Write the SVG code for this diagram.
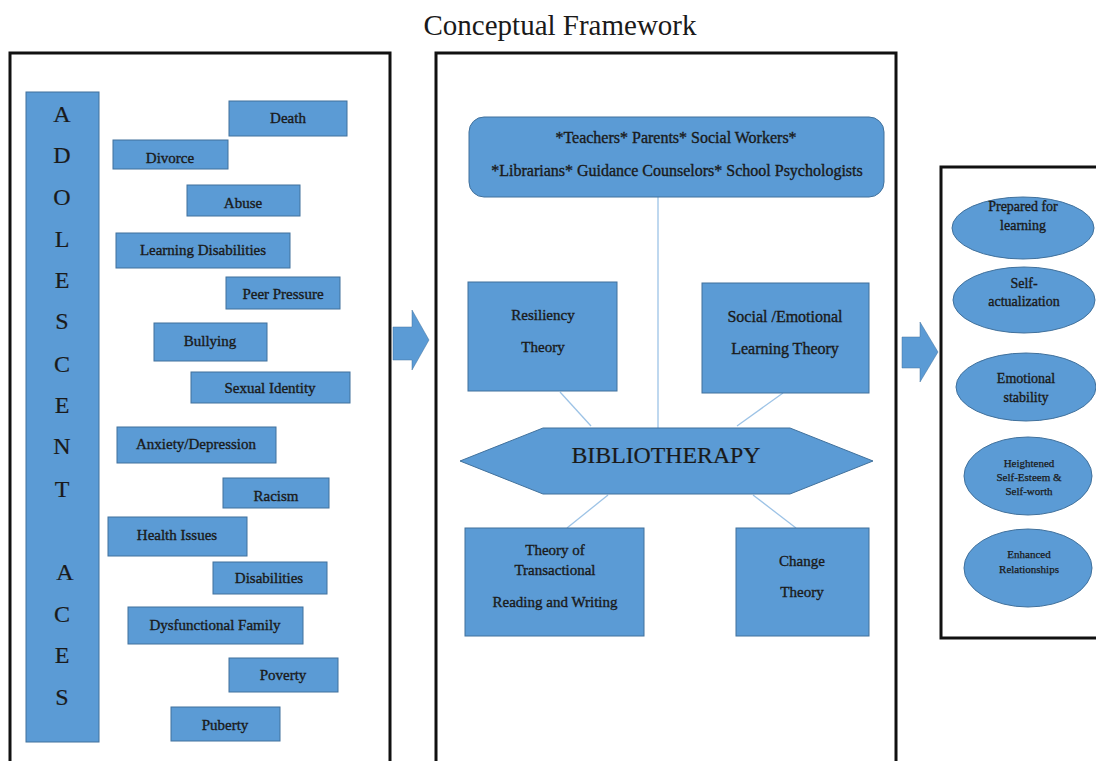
<svg xmlns="http://www.w3.org/2000/svg" width="1096" height="761" viewBox="0 0 1096 761">
<style>
.panel{fill:none;stroke:#111;stroke-width:3}
.box{fill:#5b9bd5;stroke:#41719c;stroke-width:1}
.conn{stroke:#9dc3e6;stroke-width:1.3;fill:none}
</style>
<rect width="1096" height="761" fill="#fff"/>
<g font-family="Liberation Serif, Times New Roman, serif" fill="#1a1a1a" text-anchor="middle">
<text x="560" y="35" font-size="29">Conceptual Framework</text>
</g>

<g id="panels">
<rect class="panel" x="10" y="53" width="380" height="720"/>
<rect class="panel" x="436" y="53" width="460" height="720"/>
<rect class="panel" x="941" y="167" width="160" height="471"/>
</g>

<g id="arrows" fill="#5b9bd5" stroke="#41719c" stroke-width="0.5">
<polygon points="393,327 412,327 412,310 429,340 412,370 412,360 393,360"/>
<polygon points="902,337 920,337 920,322 938,352 920,382 920,368 902,368"/>
</g>

<g id="connectors">
<line class="conn" x1="658" y1="197" x2="658" y2="428"/>
<line class="conn" x1="560" y1="392" x2="591" y2="426"/>
<line class="conn" x1="783" y1="393" x2="737" y2="426"/>
<line class="conn" x1="608" y1="495" x2="567" y2="528"/>
<line class="conn" x1="753" y1="495" x2="796" y2="528"/>
</g>

<g font-family="Liberation Serif, Times New Roman, serif" fill="#1a1a1a" stroke="#1a1a1a" stroke-width="0.35" text-anchor="middle" font-size="15">

<g id="adolescent-aces" font-size="24" stroke-width="0.2">
<rect class="box" x="26" y="92" width="73" height="650"/>
<text x="62" y="122">A</text>
<text x="62" y="163">D</text>
<text x="62" y="205">O</text>
<text x="62" y="247">L</text>
<text x="62" y="288">E</text>
<text x="62" y="329">S</text>
<text x="62" y="372">C</text>
<text x="62" y="413">E</text>
<text x="62" y="454">N</text>
<text x="62" y="497">T</text>
<text x="65" y="580">A</text>
<text x="62" y="622">C</text>
<text x="62" y="663">E</text>
<text x="62" y="705">S</text>
</g>

<g id="death"><rect class="box" x="229" y="101" width="118" height="35"/><text x="288" y="123">Death</text></g>
<g id="divorce"><rect class="box" x="113" y="140" width="115" height="29"/><text x="170" y="163">Divorce</text></g>
<g id="abuse"><rect class="box" x="187" y="185" width="113" height="31"/><text x="243" y="208">Abuse</text></g>
<g id="learning-disabilities"><rect class="box" x="116" y="233" width="174" height="35"/><text x="203" y="255">Learning Disabilities</text></g>
<g id="peer-pressure"><rect class="box" x="226" y="277" width="114" height="32"/><text x="283" y="299">Peer Pressure</text></g>
<g id="bullying"><rect class="box" x="154" y="323" width="113" height="38"/><text x="210" y="346">Bullying</text></g>
<g id="sexual-identity"><rect class="box" x="191" y="372" width="159" height="31"/><text x="270" y="393">Sexual Identity</text></g>
<g id="anxiety"><rect class="box" x="117" y="427" width="159" height="36"/><text x="196" y="449">Anxiety/Depression</text></g>
<g id="racism"><rect class="box" x="223" y="478" width="106" height="30"/><text x="276" y="501">Racism</text></g>
<g id="health"><rect class="box" x="108" y="517" width="139" height="39"/><text x="177" y="540">Health Issues</text></g>
<g id="disabilities"><rect class="box" x="213" y="562" width="114" height="32"/><text x="269" y="583">Disabilities</text></g>
<g id="dysfunctional"><rect class="box" x="128" y="607" width="175" height="37"/><text x="215" y="630">Dysfunctional Family</text></g>
<g id="poverty"><rect class="box" x="229" y="658" width="109" height="34"/><text x="283" y="680">Poverty</text></g>
<g id="puberty"><rect class="box" x="171" y="707" width="109" height="34"/><text x="225" y="730">Puberty</text></g>

<g id="people" font-size="16"><rect class="box" x="469" y="117" width="415" height="80" rx="15"/>
<text x="676" y="143">*Teachers* Parents* Social Workers*</text>
<text x="677" y="176">*Librarians* Guidance Counselors* School Psychologists</text></g>

<g id="resiliency"><rect class="box" x="468" y="282" width="149" height="109"/>
<text x="543" y="320">Resiliency</text><text x="543" y="352">Theory</text></g>

<g id="sel" font-size="16"><rect class="box" x="702" y="283" width="167" height="110"/>
<text x="785" y="322">Social /Emotional</text><text x="785" y="354">Learning Theory</text></g>

<g id="bibliotherapy" font-size="24" stroke-width="0.2"><polygon class="box" points="460,461 543,428 790,428 873,461 790,494 543,494"/>
<text x="666" y="463" textLength="189" lengthAdjust="spacingAndGlyphs">BIBLIOTHERAPY</text></g>

<g id="transactional"><rect class="box" x="465" y="528" width="179" height="108"/>
<text x="555" y="555">Theory of</text><text x="555" y="575">Transactional</text><text x="555" y="607">Reading and Writing</text></g>

<g id="change"><rect class="box" x="736" y="528" width="133" height="108"/>
<text x="802" y="566">Change</text><text x="802" y="597">Theory</text></g>

<g id="prepared" font-size="14"><ellipse class="box" cx="1023" cy="228" rx="71" ry="31"/>
<text x="1023" y="211">Prepared for</text><text x="1023" y="230">learning</text></g>
<g id="self-actualization" font-size="14"><ellipse class="box" cx="1024" cy="300" rx="71" ry="33"/>
<text x="1024" y="288">Self-</text><text x="1024" y="306">actualization</text></g>
<g id="emotional" font-size="14"><ellipse class="box" cx="1026" cy="387" rx="70" ry="34"/>
<text x="1026" y="383">Emotional</text><text x="1026" y="402">stability</text></g>
<g id="self-esteem" font-size="11" stroke-width="0.25"><ellipse class="box" cx="1028" cy="476" rx="64" ry="39"/>
<text x="1029" y="467">Heightened</text><text x="1029" y="481">Self-Esteem &amp;</text><text x="1029" y="495">Self-worth</text></g>
<g id="relationships" font-size="11" stroke-width="0.25"><ellipse class="box" cx="1028" cy="568" rx="64" ry="39"/>
<text x="1029" y="558">Enhanced</text><text x="1029" y="573">Relationships</text></g>
</g>
</svg>
